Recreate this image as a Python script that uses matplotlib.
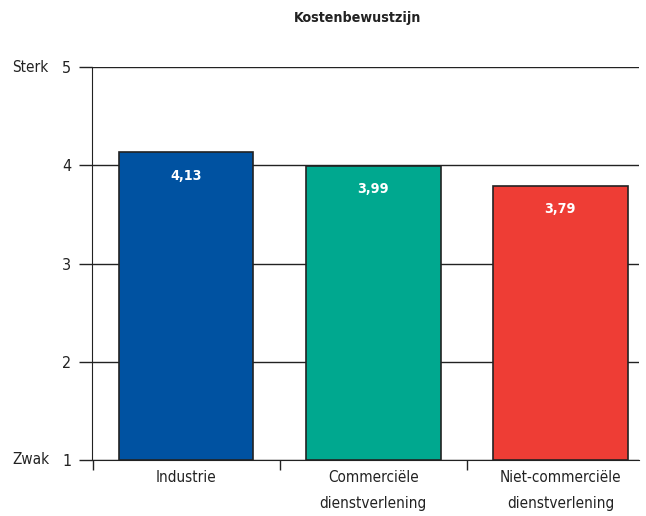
import matplotlib
matplotlib.use('Agg')
import matplotlib.pyplot as plt
import numpy as np

plt.rcParams['font.family'] = ['DejaVu Sans']
plt.rcParams['font.stretch'] = 'condensed'

# data
categories = ['Industrie', 'Commerciële\ndienstverlening', 'Niet-commerciële\ndienstverlening']
values = [4.13, 3.99, 3.79]
value_labels = ['4,13', '3,99', '3,79']
colors = ['#0052a1', '#00a88f', '#ee3d35']
title = 'Kostenbewustzijn'

fig = plt.figure(figsize=(6.46, 5.16), dpi=100)
ax = fig.add_axes([92 / 646, 56 / 516, 547 / 646, 393 / 516])

x = np.arange(len(categories))
bottom = 1
ax.bar(x, np.array(values) - bottom, bottom=bottom, width=0.72, color=colors,
       edgecolor='#222222', linewidth=1.2, zorder=3)

for xi, v, lab in zip(x, values, value_labels):
    ax.text(xi, v - 0.235, lab, ha='center', va='center', color='white',
            fontsize=10.3, fontweight='bold', zorder=4)

ax.set_xlim(-0.503, 2.42)
ax.set_ylim(1, 5)

ax.set_yticks([1, 2, 3, 4, 5])
ax.set_yticklabels(['1', '2', '3', '4', '5'], fontsize=11.5, color='#222222')
ax.tick_params(axis='y', length=9.5, width=1, pad=5.5, color='#222222')
ax.grid(axis='y', color='#222222', linewidth=1, zorder=0)

ax.set_xticks([-0.5, 0.5, 1.5])
ax.set_xticklabels([])
ax.tick_params(axis='x', length=7.5, width=1, color='#222222')
for xi, cat in zip(x, categories):
    ax.text(xi, -0.025, cat, transform=ax.get_xaxis_transform(), ha='center', va='top',
            fontsize=11, color='#222222', linespacing=1.9)

for s in ['top', 'right']:
    ax.spines[s].set_visible(False)
ax.spines['left'].set_color('#222222')
ax.spines['bottom'].set_color('#222222')

fig.text(12 / 646, 1 - 67 / 516, 'Sterk', ha='left', va='center', fontsize=11, color='#222222')
fig.text(12 / 646, 1 - 460 / 516, 'Zwak', ha='left', va='center', fontsize=11, color='#222222')
fig.text(357.5 / 646, 1 - 18 / 516, title, ha='center', va='center', fontsize=10.2,
         fontweight='bold', color='#222222')

fig.savefig('out.png', dpi=100)
